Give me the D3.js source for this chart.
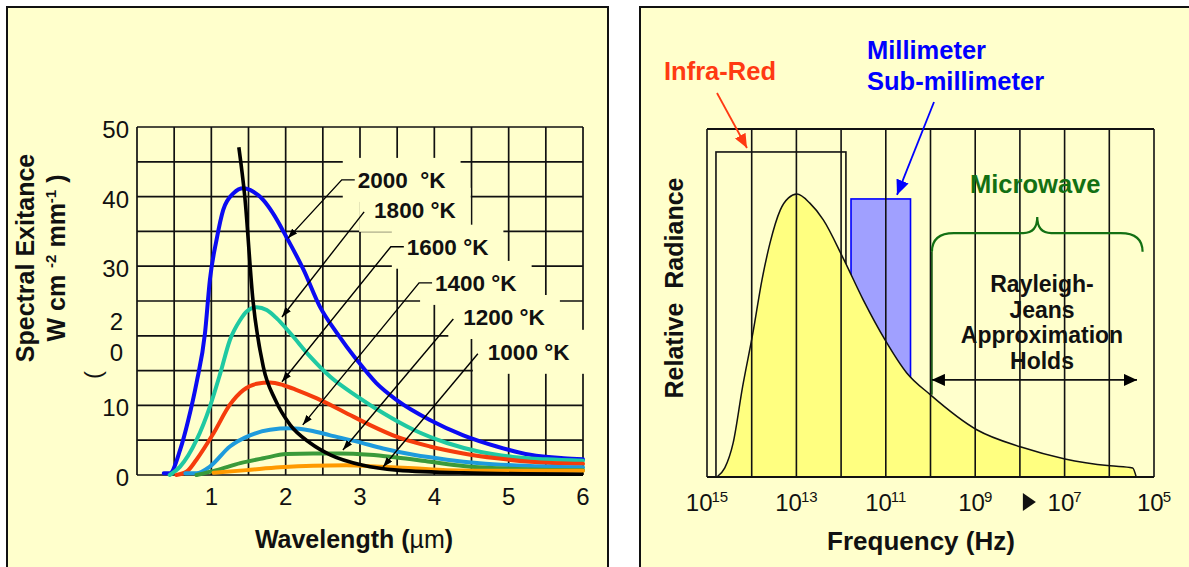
<!DOCTYPE html>
<html><head><meta charset="utf-8">
<script src="https://cdn.jsdelivr.net/npm/d3@7"></script>
<style>
html,body{margin:0;padding:0;background:#fff;}
svg{display:block;font-family:"Liberation Sans",Arial,Helvetica,sans-serif;}
</style></head><body>
<svg id="chart" width="1189" height="567"></svg>
<script>
// ---------- Left panel: blackbody spectral exitance vs wavelength ----------
const wavelengthTicks = [1, 2, 3, 4, 5, 6];
const exitanceTicks = [0, 10, 20, 30, 40, 50];
const tempLabels = ["2000  °K", "1800 °K", "1600 °K", "1400 °K", "1200 °K", "1000 °K"];
const tempColors = ["#0b0bf2", "#1fc9a2", "#f53c0c", "#1e9bdc", "#3a9a3a", "#ff9a00"];

// [wavelength µm, W cm-2 µm-1]
const exit2000 = [[0.36,0.24],[0.44,0.24],[0.58,3.6],[0.69,7.9],[0.80,13.2],[0.915,20.4],[0.98,28.0],[1.07,33.8],[1.16,38.1],[1.30,40.5],[1.43,41.2],[1.565,40.7],[1.70,39.5],[1.83,37.6],[2.01,34.2],[2.24,29.5],[2.46,24.2],[2.69,20.4],[2.96,16.5],[3.22,13.2],[3.49,10.8],[3.94,7.9],[4.39,5.7],[4.84,4.1],[5.29,2.9],[5.74,2.4],[6.0,2.25]];
const exit1800 = [[0.44,0],[0.58,1.2],[0.80,5.0],[0.98,9.8],[1.12,14.6],[1.25,19.4],[1.39,22.3],[1.475,23.5],[1.61,24.1],[1.745,23.7],[1.88,22.5],[2.06,20.4],[2.33,17.0],[2.60,14.1],[2.96,11.3],[3.31,8.9],[3.72,6.5],[4.17,4.6],[4.61,3.35],[5.06,2.6],[5.51,2.25],[6.0,2.05]];
const exit1600 = [[0.53,0],[0.67,0.5],[0.80,2.2],[1.03,6.0],[1.25,10.1],[1.43,12.2],[1.61,13.1],[1.79,13.3],[1.97,12.9],[2.15,12.2],[2.42,11.0],[2.78,9.1],[3.13,7.2],[3.49,5.5],[3.94,4.1],[4.39,3.1],[4.84,2.4],[5.29,1.9],[6.0,1.6]];
const exit1400 = [[0.65,0.24],[0.80,0.24],[0.98,1.2],[1.25,4.1],[1.52,5.7],[1.79,6.5],[2.06,6.7],[2.33,6.4],[2.60,5.7],[2.96,4.8],[3.31,3.8],[3.72,2.9],[4.17,2.2],[4.61,1.7],[5.29,1.3],[6.0,1.1]];
const exit1200 = [[0.80,0],[1.07,0.7],[1.39,1.7],[1.70,2.4],[2.01,3.0],[2.37,3.1],[2.73,3.1],[3.13,2.9],[3.49,2.5],[3.94,1.9],[4.39,1.3],[4.84,0.96],[5.29,0.8],[6.0,0.7]];
const exit1000 = [[1.03,0.33],[1.475,0.7],[1.92,1.1],[2.37,1.34],[2.82,1.4],[3.27,1.2],[3.72,0.96],[4.17,0.7],[4.84,0.6],[6.0,0.6]];
// locus of the spectral peaks (Wien displacement)
const wienLocus = [[1.37,47.1],[1.45,40],[1.56,25.1],[1.70,15.5],[1.86,10.8],[2.06,7.2],[2.33,4.6],[2.60,2.9],[3.04,1.4],[3.50,0.7],[4.39,0.3],[6.0,0.1]];

// label anchors (wavelength, exitance) and the points the arrows reach
const labelAnchors = [[2.97,42.4],[3.19,38.1],[3.63,32.8],[4.01,27.6],[4.39,22.7],[4.72,17.7]];
const arrowTips = [[2.03,34.0],[1.95,22.7],[1.95,13.4],[2.23,7.2],[2.77,3.6],[3.31,1.15]];
const arrowElbow = [true, false, true, true, false, false];

// ---------- Right panel: relative radiance vs frequency ----------
const freqTickExps = [15, 13, 11, 9, 7, 5];
const freqGridExps = [15, 14, 13, 12, 11, 10, 9, 8, 7, 6, 5];
const spectrumFreq = [6e14,4e14,2.6e14,1.6e14,9.4e13,5.9e13,3.9e13,2.3e13,1.5e13,9.7e12,5e12,2.5e12,9e11,3.2e11,1.04e11,3.4e10,1e10,9e8,9.4e7,9.8e6,9.6e5,3e5,2.5e5];
const spectrumRadiance = [0,0.026,0.098,0.259,0.414,0.566,0.672,0.767,0.802,0.813,0.787,0.739,0.629,0.509,0.394,0.299,0.236,0.135,0.086,0.052,0.032,0.026,0];
const infraRedBand = [6.3e14, 7.8e11, 0.934];
const submmBand = [6.0e11, 2.8e10, 0.799];
const microwaveBand = [9.3e9, 1.8e5];
const rayleighJeansBand = [9.3e9, 2.4e5];
const rjLines = ["Rayleigh-", "Jeans", "Approximation", "Holds"];

const PANEL = "#ffffcc";
const svg = d3.select("#chart");
const defs = svg.append("defs");
function marker(id, color, len, wid) {
  defs.append("marker").attr("id", id).attr("markerUnits", "userSpaceOnUse")
    .attr("viewBox", `0 0 ${len} ${wid}`).attr("refX", len).attr("refY", wid / 2)
    .attr("markerWidth", len).attr("markerHeight", wid).attr("orient", "auto-start-reverse")
    .append("path").attr("d", `M0,0L${len},${wid / 2}L0,${wid}Z`).attr("fill", color);
}
marker("hk", "#000", 10, 7);
marker("hr", "#ff3a12", 14, 12);
marker("hb", "#0000ff", 15, 13);
marker("hk2", "#000", 13, 12);

// panels
svg.append("rect").attr("x", 7).attr("y", 7).attr("width", 601).attr("height", 620)
  .attr("fill", PANEL).attr("stroke", "#111").attr("stroke-width", 2);
svg.append("rect").attr("x", 640).attr("y", 7).attr("width", 600).attr("height", 620)
  .attr("fill", PANEL).attr("stroke", "#111").attr("stroke-width", 2);

// ===== left chart =====
const xW = d3.scaleLinear().domain([0, 6]).range([137, 583]);
const yE = d3.scaleLinear().domain([0, 50]).range([475, 127]);
const gl = svg.append("g");
gl.selectAll("line.v").data(d3.range(0, 6.01, 0.5)).join("line")
  .attr("x1", d => xW(d)).attr("x2", d => xW(d)).attr("y1", yE(0)).attr("y2", yE(50))
  .attr("stroke", "#111").attr("stroke-width", 1.7);
gl.selectAll("line.h").data(d3.range(0, 50.1, 5)).join("line")
  .attr("x1", xW(0)).attr("x2", xW(6)).attr("y1", d => yE(d)).attr("y2", d => yE(d))
  .attr("stroke", "#111").attr("stroke-width", 1.7);
const gBoxes = svg.append("g");
const gCurves = svg.append("g");
const gArrows = svg.append("g");
const gLabels = svg.append("g");

const lineW = d3.line().x(d => xW(d[0])).y(d => yE(d[1])).curve(d3.curveMonotoneX);
[exit2000, exit1800, exit1600, exit1400, exit1200, exit1000].forEach((s, i) => {
  gCurves.append("path").attr("d", lineW(s)).attr("fill", "none")
    .attr("stroke", tempColors[i]).attr("stroke-width", 4).attr("stroke-linecap", "round");
});
gCurves.append("path").attr("d", lineW(wienLocus)).attr("fill", "none")
  .attr("stroke", "#000").attr("stroke-width", 3.6);

tempLabels.forEach((t, i) => {
  const lx = xW(labelAnchors[i][0]), cy = yE(labelAnchors[i][1]);
  const txt = gLabels.append("text").attr("x", lx).attr("y", cy + 8)
    .attr("font-size", 22.5).attr("font-weight", "bold").attr("fill", "#111")
    .style("white-space", "pre").text(t);
  const w = txt.node().getComputedTextLength();
  gBoxes.append("rect").attr("x", lx - 15).attr("y", cy - 22)
    .attr("width", w + 30).attr("height", 44).attr("fill", PANEL);
  const tip = [xW(arrowTips[i][0]), yE(arrowTips[i][1])];
  const pts = arrowElbow[i] ? [[lx - 3, cy], [lx - 16, cy], tip] : [[lx - 10, cy + 2], tip];
  gArrows.append("path").attr("d", d3.line()(pts)).attr("fill", "none")
    .attr("stroke", "#000").attr("stroke-width", 1.4).attr("marker-end", "url(#hk)");
});

// y ticks
exitanceTicks.forEach(v => {
  if (v === 20) {
    gl.append("text").attr("x", 123).attr("y", yE(v) - 6).attr("text-anchor", "end")
      .attr("font-size", 24).attr("fill", "#111").text(String(v)[0]);
    gl.append("text").attr("x", 123).attr("y", yE(v) + 25).attr("text-anchor", "end")
      .attr("font-size", 24).attr("fill", "#111").text(String(v)[1]);
  } else {
    gl.append("text").attr("x", 129).attr("y", yE(v) + 11).attr("text-anchor", "end")
      .attr("font-size", 24).attr("fill", "#111").text(v);
  }
});
gl.append("text").attr("transform", "translate(101,375) rotate(-90)").attr("text-anchor", "middle")
  .attr("font-size", 24).attr("fill", "#111").text("(");
wavelengthTicks.forEach(v => {
  gl.append("text").attr("x", xW(v)).attr("y", 505).attr("text-anchor", "middle")
    .attr("font-size", 24).attr("fill", "#111").text(v);
});
const xt = gl.append("text").attr("x", 354).attr("y", 548).attr("text-anchor", "middle")
  .attr("font-size", 25).attr("font-weight", "bold").attr("fill", "#111");
xt.append("tspan").text("Wavelength (");
xt.append("tspan").attr("font-weight", "normal").text("µm");
xt.append("tspan").text(")");
gl.append("text").attr("transform", "translate(34,258) rotate(-90)").attr("text-anchor", "middle")
  .attr("font-size", 25).attr("font-weight", "bold").attr("fill", "#111").text("Spectral Exitance");
const yt2 = gl.append("text").attr("transform", "translate(65,258) rotate(-90)").attr("text-anchor", "middle")
  .attr("font-size", 25).attr("font-weight", "bold").attr("fill", "#111").style("white-space", "pre");
yt2.append("tspan").text("W cm ");
yt2.append("tspan").attr("font-size", 15).attr("dy", -9).text("-2");
yt2.append("tspan").attr("dy", 9).text(" mm");
yt2.append("tspan").attr("font-size", 15).attr("dy", -9).text("-1");
yt2.append("tspan").attr("dy", 9).text(" )");

// ===== right chart =====
const xF = d3.scaleLog().domain([1e15, 1e5]).range([707, 1154]);
const yR = d3.scaleLinear().domain([0, 1]).range([477, 129]);
const gr = svg.append("g");
// infra-red window
gr.append("rect").attr("x", xF(infraRedBand[0])).attr("y", yR(infraRedBand[2]))
  .attr("width", xF(infraRedBand[1]) - xF(infraRedBand[0])).attr("height", yR(0) - yR(infraRedBand[2]))
  .attr("fill", "none").attr("stroke", "#111").attr("stroke-width", 1.6);
// millimetre / sub-millimetre window
gr.append("rect").attr("x", xF(submmBand[0])).attr("y", yR(submmBand[2]))
  .attr("width", xF(submmBand[1]) - xF(submmBand[0])).attr("height", yR(0) - yR(submmBand[2]))
  .attr("fill", "#a0a0ff").attr("stroke", "#0000ff").attr("stroke-width", 1.6);
// spectrum
const spec = spectrumFreq.map((f, i) => [f, spectrumRadiance[i]]);
const area = d3.area().x(d => xF(d[0])).y0(yR(0)).y1(d => yR(d[1])).curve(d3.curveMonotoneX);
const lineF = d3.line().x(d => xF(d[0])).y(d => yR(d[1])).curve(d3.curveMonotoneX);
gr.append("path").attr("d", area(spec)).attr("fill", "#ffff80");
gr.append("path").attr("d", lineF(spec)).attr("fill", "none").attr("stroke", "#111").attr("stroke-width", 1.5);
// decade grid
gr.selectAll("line.g").data(freqGridExps).join("line")
  .attr("x1", d => xF(Math.pow(10, d))).attr("x2", d => xF(Math.pow(10, d)))
  .attr("y1", yR(0)).attr("y2", yR(1)).attr("stroke", "#111").attr("stroke-width", 1.6);
gr.append("line").attr("x1", xF(1e15)).attr("x2", xF(1e5)).attr("y1", yR(1)).attr("y2", yR(1))
  .attr("stroke", "#111").attr("stroke-width", 2);
gr.append("line").attr("x1", xF(1e15)).attr("x2", xF(1e5)).attr("y1", yR(0)).attr("y2", yR(0))
  .attr("stroke", "#111").attr("stroke-width", 2);

// microwave brace
const bx0 = xF(microwaveBand[0]), bx1 = xF(microwaveBand[1]), bm = (bx0 + bx1) / 2;
const by = yR(0.701), bEnd = yR(0.647), bTop = yR(0.747);
gr.append("path").attr("d",
  `M${bx0},${bEnd}Q${bx0},${by} ${bx0 + 22},${by}L${bm - 14},${by}Q${bm},${by} ${bm},${bTop}` +
  `Q${bm},${by} ${bm + 14},${by}L${bx1 - 22},${by}Q${bx1},${by} ${bx1},${bEnd}`)
  .attr("fill", "none").attr("stroke", "#137013").attr("stroke-width", 2.2);
gr.append("line").attr("x1", bx0).attr("x2", bx0).attr("y1", bEnd).attr("y2", yR(0.236))
  .attr("stroke", "#0c4f0c").attr("stroke-width", 1.6);
gr.append("text").attr("x", bm - 2).attr("y", 193).attr("text-anchor", "middle")
  .attr("font-size", 25.5).attr("font-weight", "bold").attr("fill", "#137013").text("Microwave");

// Rayleigh-Jeans region
gr.append("line").attr("x1", xF(rayleighJeansBand[0])).attr("x2", xF(rayleighJeansBand[1]))
  .attr("y1", yR(0.279)).attr("y2", yR(0.279)).attr("stroke", "#111").attr("stroke-width", 1.6)
  .attr("marker-start", "url(#hk2)").attr("marker-end", "url(#hk2)");
rjLines.forEach((t, i) => {
  gr.append("text").attr("x", 1042).attr("y", 292 + i * 25.7).attr("text-anchor", "middle")
    .attr("font-size", 23).attr("font-weight", "bold").attr("fill", "#111").text(t);
});

// band labels and arrows
gr.append("text").attr("x", 720).attr("y", 80).attr("text-anchor", "middle")
  .attr("font-size", 25.5).attr("font-weight", "bold").attr("fill", "#ff3a12").text("Infra-Red");
gr.append("line").attr("x1", 717).attr("y1", 93).attr("x2", xF(infraRedBand[0]) + 31).attr("y2", yR(infraRedBand[2]) - 4)
  .attr("stroke", "#ff3a12").attr("stroke-width", 1.8).attr("marker-end", "url(#hr)");
gr.append("text").attr("x", 867).attr("y", 59).attr("font-size", 25.5).attr("font-weight", "bold")
  .attr("fill", "#0000ff").text("Millimeter");
gr.append("text").attr("x", 867).attr("y", 90).attr("font-size", 25.5).attr("font-weight", "bold")
  .attr("fill", "#0000ff").text("Sub-millimeter");
gr.append("line").attr("x1", 934).attr("y1", 102).attr("x2", 897).attr("y2", yR(submmBand[2]) - 4)
  .attr("stroke", "#0000ff").attr("stroke-width", 1.8).attr("marker-end", "url(#hb)");

// frequency ticks
freqTickExps.forEach(e => {
  const t = gr.append("text").attr("x", xF(Math.pow(10, e))).attr("y", 511).attr("text-anchor", "middle")
    .attr("font-size", 24).attr("fill", "#111");
  t.append("tspan").text("10");
  t.append("tspan").attr("font-size", 15).attr("dy", -9).attr("dx", -1).text(e);
});
const tri = xF(6.3e7);
gr.append("path").attr("d", `M${tri - 6},${493}L${tri + 7},${502}L${tri - 6},${511}Z`).attr("fill", "#111");
gr.append("text").attr("x", 921).attr("y", 550).attr("text-anchor", "middle")
  .attr("font-size", 26).attr("font-weight", "bold").attr("fill", "#111").text("Frequency (Hz)");
gr.append("text").attr("transform", "translate(683,288) rotate(-90)").attr("text-anchor", "middle")
  .attr("font-size", 25).attr("font-weight", "bold").attr("fill", "#111").style("white-space", "pre")
  .text("Relative  Radiance");
</script>
</body></html>
